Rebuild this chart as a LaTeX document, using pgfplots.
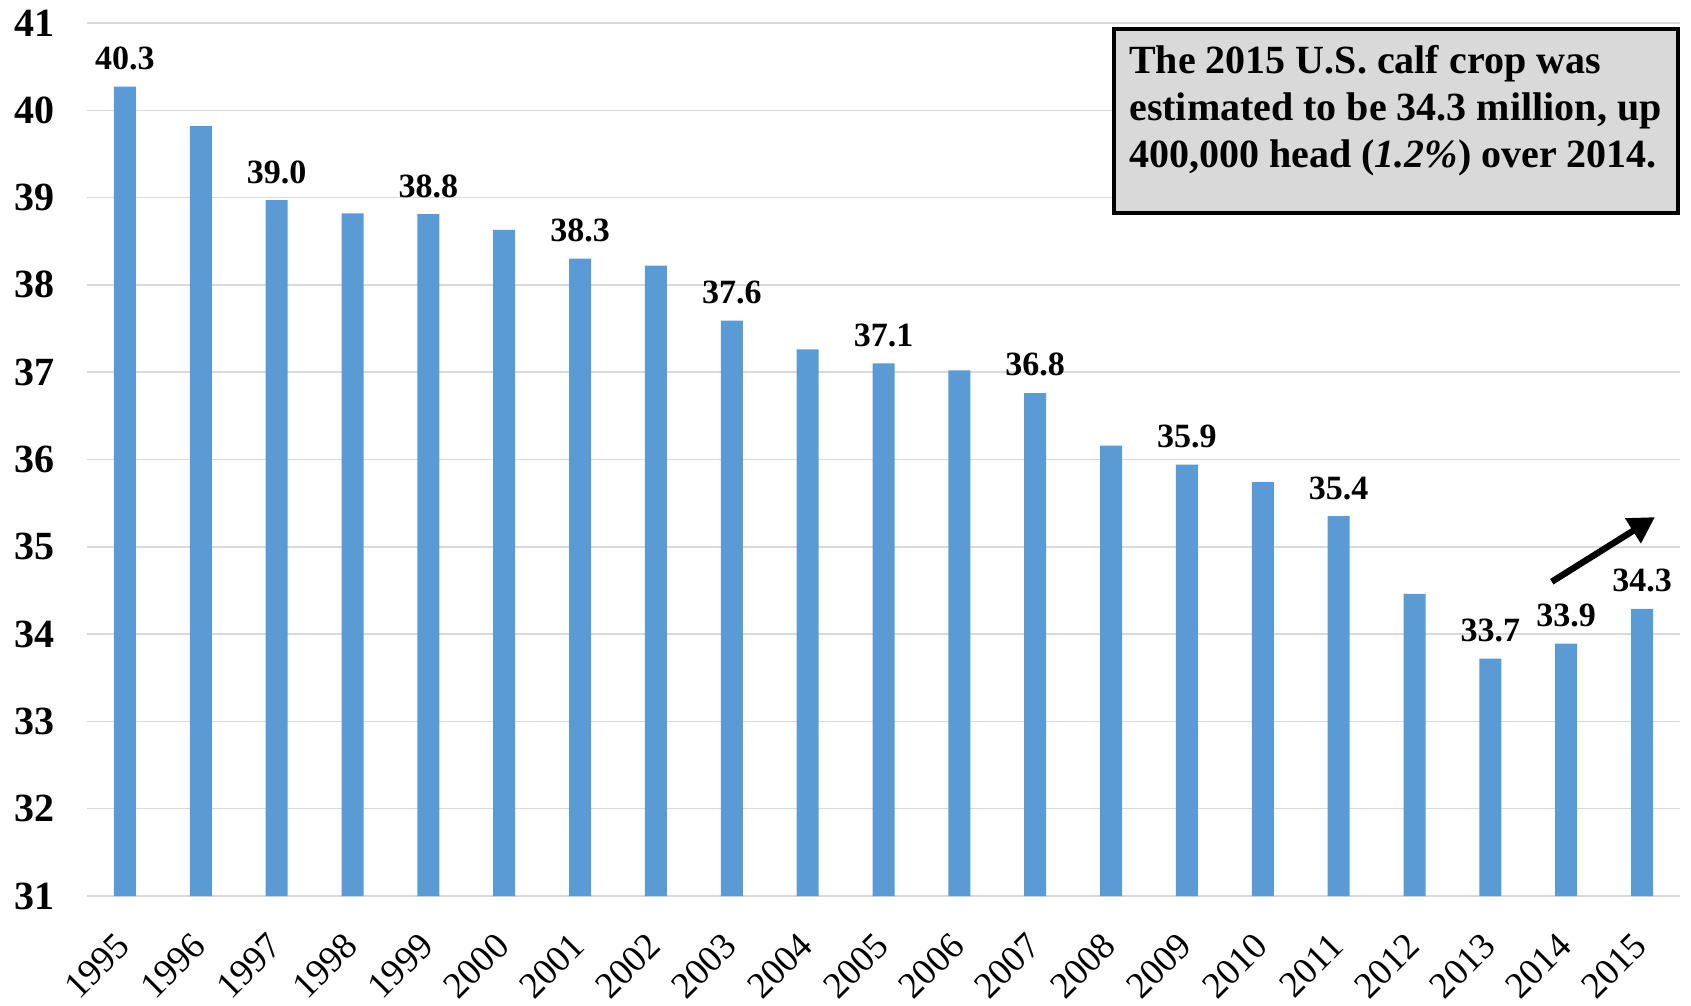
\documentclass[border=0pt]{standalone}
\usepackage{fontspec}
\setmainfont{Liberation Serif}
\usepackage{pgfplots}
\pgfplotsset{compat=1.18}
\usetikzlibrary{arrows.meta}
\definecolor{barblue}{HTML}{5B9BD5}
\definecolor{gridgray}{HTML}{D9D9D9}
\definecolor{boxgray}{HTML}{D9D9D9}
\pgfplotstableread{
x y
0 40.27
1 39.82
2 38.97
3 38.82
4 38.81
5 38.63
6 38.30
7 38.22
8 37.59
9 37.26
10 37.10
11 37.02
12 36.76
13 36.16
14 35.94
15 35.74
16 35.35
17 34.46
18 33.72
19 33.89
20 34.29
}\bars
\pgfplotstableread{
x y lab
0 40.27 40.3
2 38.97 39.0
4 38.81 38.8
6 38.30 38.3
8 37.59 37.6
10 37.10 37.1
12 36.76 36.8
14 35.94 35.9
16 35.35 35.4
18 33.72 33.7
19 33.89 33.9
20 34.29 34.3
}\labs
\begin{document}
\begin{tikzpicture}[font=\fontsize{17}{20}\selectfont]
\useasboundingbox (-43.5pt,-55pt) rectangle (802pt,448pt);
\begin{axis}[
  at={(0,0)}, anchor=south west,
  scale only axis, width=796.5pt, height=436.5pt,
  xmin=-0.5, xmax=20.5, ymin=31, ymax=41,
  ytick={31,32,...,41},
  xtick={0,...,20},
  xticklabels={1995,1996,1997,1998,1999,2000,2001,2002,2003,2004,2005,2006,2007,2008,2009,2010,2011,2012,2013,2014,2015},
  /pgf/number format/assume math mode=true,
  axis line style={draw=none},
  major tick length=0pt,
  ymajorgrids, grid style={gridgray, line width=0.75pt},
  yticklabel style={font=\fontsize{20}{24}\selectfont\bfseries, xshift=-12.5pt},
  xticklabel style={font=\fontsize{18.5}{22}\selectfont, inner sep=1pt, xshift=0pt, yshift=-21pt, rotate=45, anchor=east},
  clip=false,
]
\addplot[ybar, bar width=11pt, fill=barblue, draw=none] table[x=x,y=y] {\bars};
\addplot[draw=none, mark=none, nodes near coords, point meta=explicit symbolic,
  nodes near coords style={font=\fontsize{17}{20}\selectfont\bfseries, anchor=south, yshift=4.8pt}]
  table[x=x,y=y,meta=lab] {\labs};
\draw[line width=3.2pt, -{Triangle[length=13pt,width=14pt]}] (axis cs:18.81,34.60) -- (axis cs:20.17,35.34);
\draw[line width=2pt, fill=boxgray] (rel axis cs:0.6447,0.9931) rectangle (rel axis cs:0.9987,0.7828);
\node[anchor=north west, inner sep=0pt, align=left, font=\fontsize{20}{23.5}\selectfont\bfseries] at (rel axis cs:0.654,0.9748)
 {The 2015 U.S. calf crop was\\estimated to be 34.3 million, up\\400,000 head (\textit{1.2\%}) over 2014.};
\end{axis}
\end{tikzpicture}
\end{document}
